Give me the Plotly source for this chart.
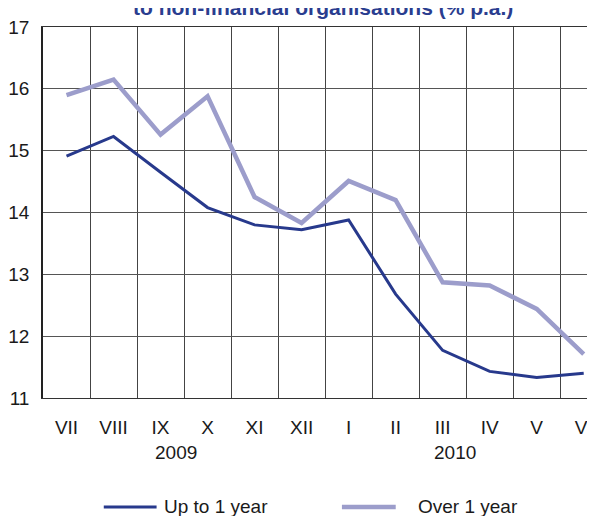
import plotly.graph_objects as go

months = ["VII", "VIII", "IX", "X", "XI", "XII", "I", "II", "III", "IV", "V", "VI"]
up_to_1_year = [14.91, 15.23, 14.65, 14.08, 13.80, 13.72, 13.88, 12.68, 11.77, 11.43, 11.33, 11.40]
over_1_year = [15.90, 16.15, 15.26, 15.88, 14.25, 13.83, 14.51, 14.20, 12.87, 12.82, 12.44, 11.71]
y_ticks = [11, 12, 13, 14, 15, 16, 17]
years = ["2009", "2010"]
year_pos = [2.32, 8.27]
series_names = ["Up to 1 year", "Over 1 year"]

DARK = "#27398c"
LIGHT = "#9c9dcb"
FONT = "Liberation Sans Narrow, Arial Narrow, Liberation Sans, Arial, sans-serif"

# page has an 8px body margin; figure is sized so it ends at the window edge
OFF = 8
L, T, B = 41 - OFF, 27 - OFF, 398 - OFF
W, H = 595 - OFF, 516 - OFF
PW = W - L
PH = B - T

x = list(range(len(months)))

fig = go.Figure()
fig.add_trace(go.Scatter(x=x, y=up_to_1_year, mode="lines", name=series_names[0],
                         line=dict(color=DARK, width=3), showlegend=False))
fig.add_trace(go.Scatter(x=x, y=over_1_year, mode="lines", name=series_names[1],
                         line=dict(color=LIGHT, width=4.5), showlegend=False))

fig.update_layout(
    width=W, height=H,
    margin=dict(l=L, r=0, t=T, b=H - B, pad=0),
    paper_bgcolor="white", plot_bgcolor="white",
    font=dict(family=FONT, size=19, color="#1a1a1a"),
    showlegend=False,
)
fig.update_xaxes(
    range=[-0.5, 11.24], tickmode="array", tickvals=x, ticktext=months,
    showgrid=False, zeroline=False,
    showline=True, linecolor="#333333", linewidth=1, mirror=True,
    ticks="", ticklabelstandoff=12, ticklabeloverflow="allow",
    minor=dict(tickmode="array", tickvals=[i + 0.5 for i in range(11)],
               showgrid=True, gridcolor="#444444", gridwidth=1, ticks=""),
)
fig.update_yaxes(
    range=[11, 17], tickmode="array", tickvals=y_ticks,
    showgrid=True, gridcolor="#555555", gridwidth=1, zeroline=False,
    showline=True, linecolor="#222222", linewidth=1.5,
    ticks="", ticklabelstandoff=8,
)

for yr, pos in zip(years, year_pos):
    fig.add_annotation(x=pos, y=(B - (452 - OFF)) / PH, xref="x", yref="paper", text=yr,
                       showarrow=False, yanchor="middle")

fig.add_annotation(x=(322 - OFF - L) / PW, y=1.016, xref="paper", yref="paper",
                   text="<b>to non-financial organisations (% p.a.)</b>",
                   showarrow=False, yanchor="bottom",
                   font=dict(size=21, color="#2a3d8f"))

# legend drawn manually
leg_y = (B - (507 - OFF)) / PH
leg_items = [(102, 155, 160, DARK, 3), (341, 395, 415, LIGHT, 4.5)]
for name, (x0, x1, tx, col, w) in zip(series_names, leg_items):
    fig.add_shape(type="line", xref="paper", yref="paper",
                  x0=(x0 - OFF - L) / PW, x1=(x1 - OFF - L) / PW, y0=leg_y, y1=leg_y,
                  line=dict(color=col, width=w))
    fig.add_annotation(x=(tx - OFF - L) / PW, y=leg_y, xref="paper", yref="paper",
                       text=name, showarrow=False, xanchor="left", yanchor="middle")

fig.write_html("out.html")
